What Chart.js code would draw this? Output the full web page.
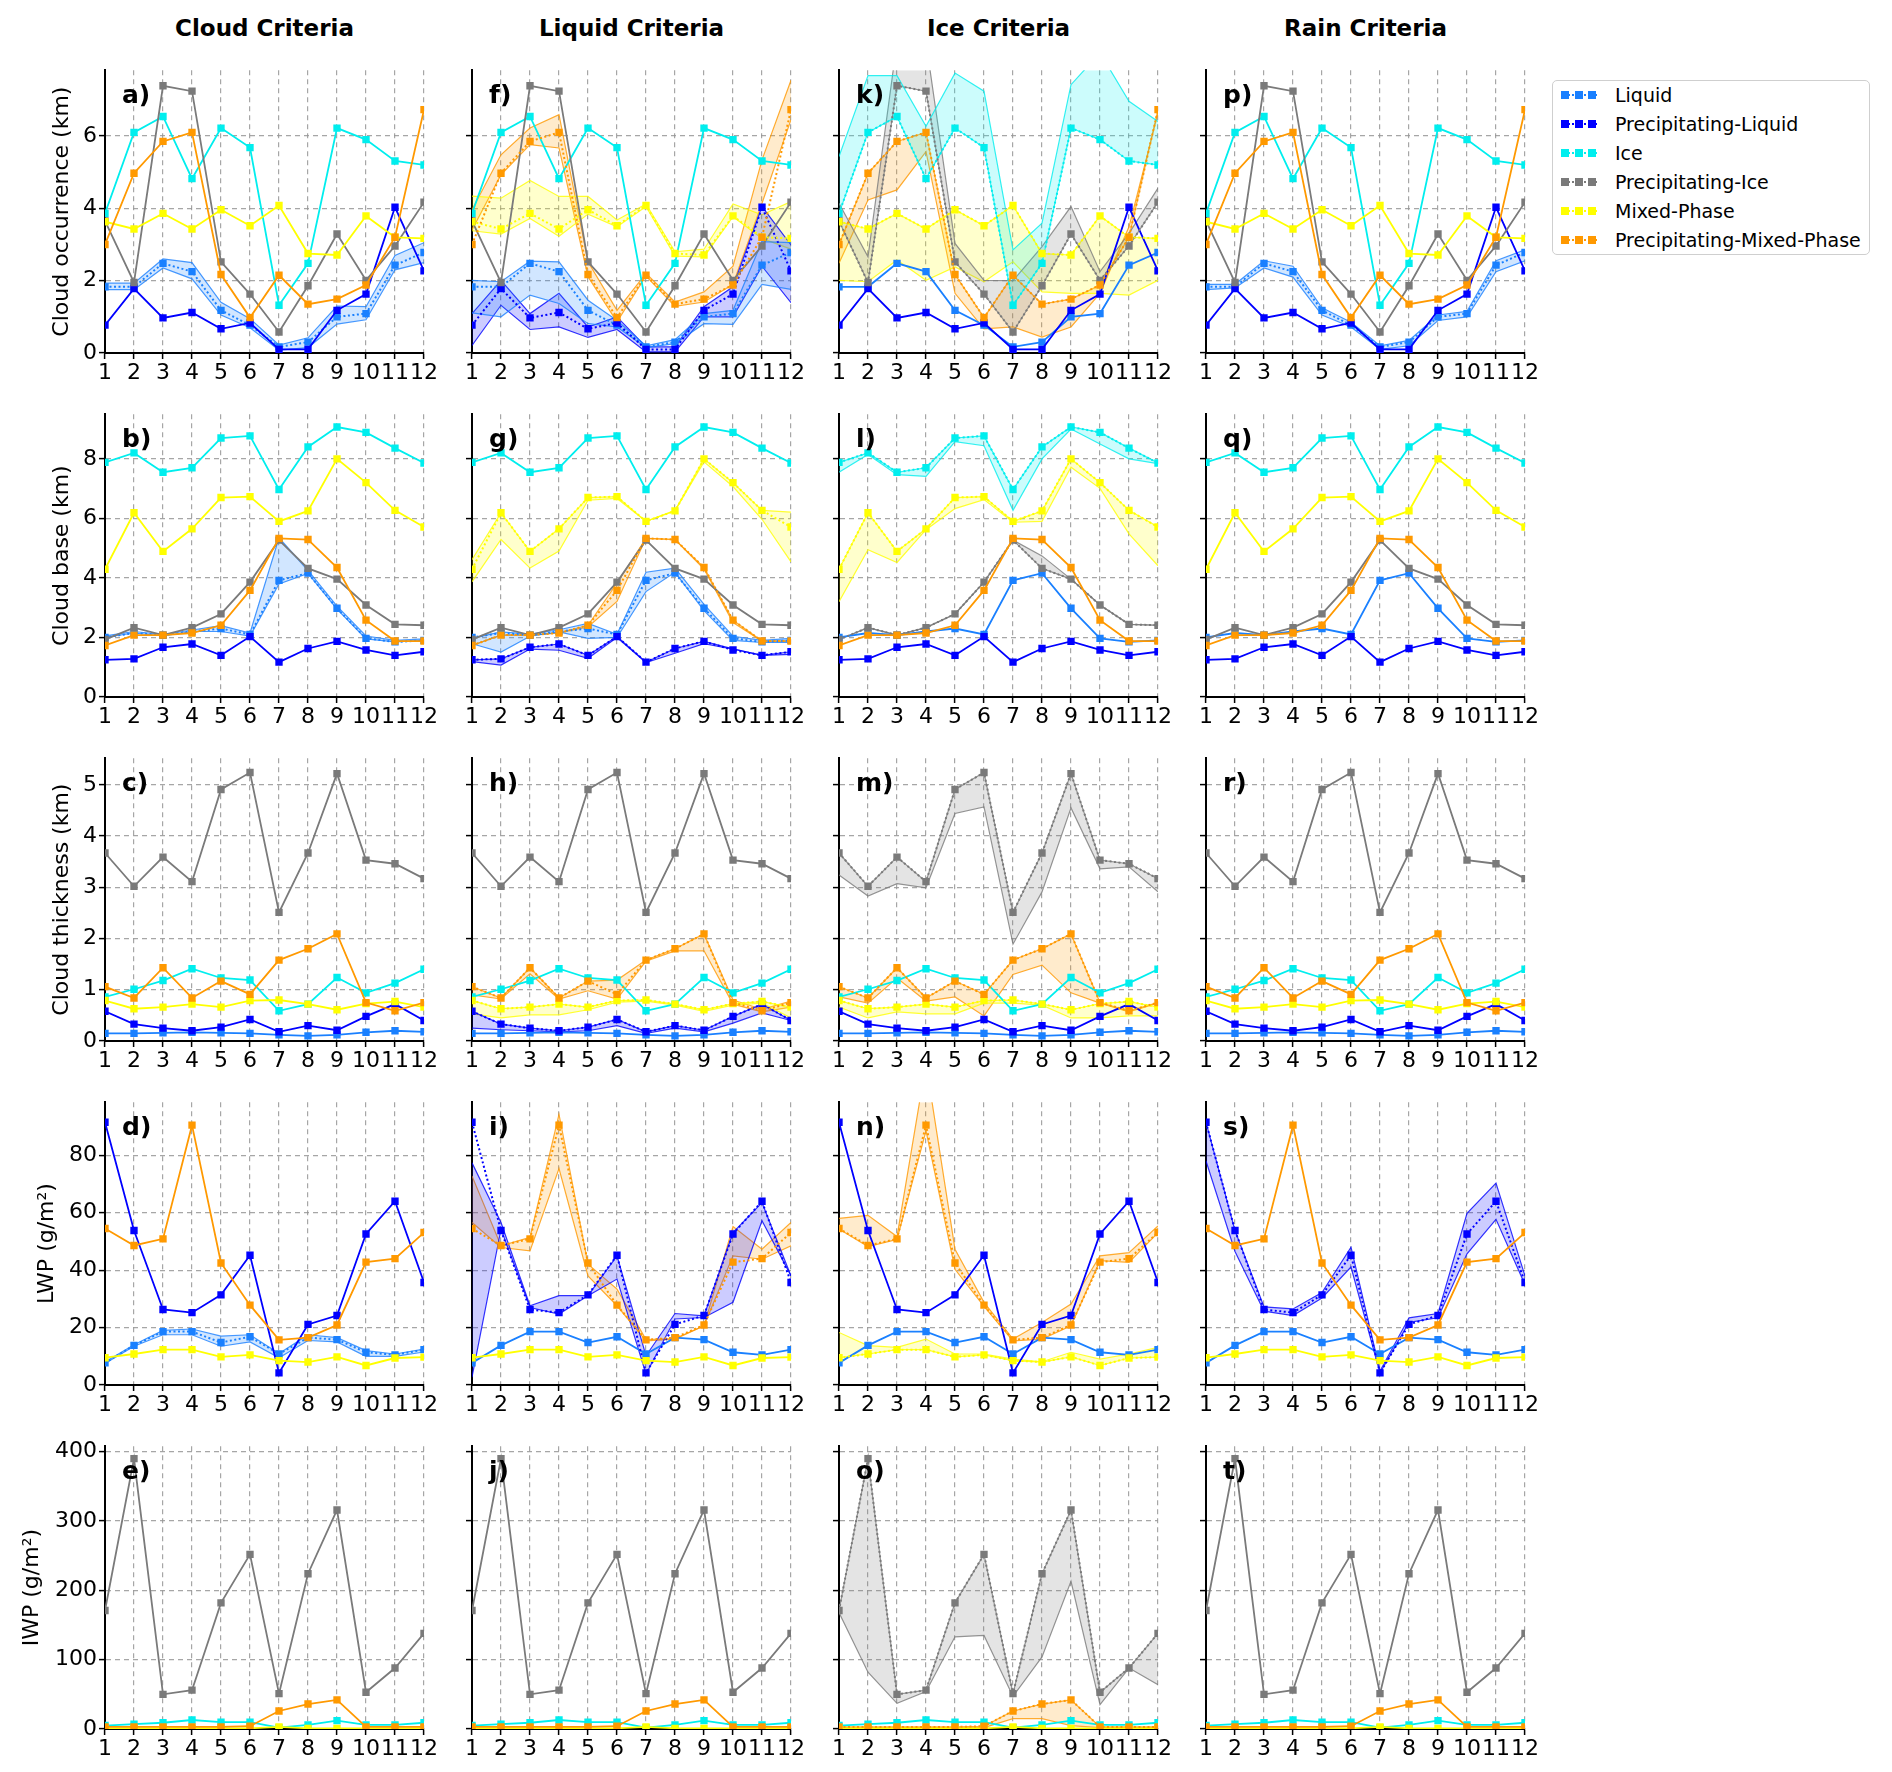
<!DOCTYPE html>
<html>
<head>
<meta charset="utf-8">
<script src="https://cdn.jsdelivr.net/npm/chart.js@4.4.1/dist/chart.umd.min.js"></script>
<style>
    body { margin: 0; background: #fff; width: 1892px; height: 1772px; position: relative; overflow: hidden;
           font-family: 'DejaVu Sans', sans-serif; }
    canvas { position: absolute; }
    .coltitle { position: absolute; top: 17px; font-weight: bold; font-size: 23px; line-height: 23px;
                transform: translateX(-50%); white-space: nowrap; color: #000; }
    #legend { position: absolute; left: 1552px; top: 80px; width: 318px; height: 175px;
              border: 1.5px solid #cfcfcf; border-radius: 5px; box-sizing: border-box; }
    .item { position: absolute; left: 0; height: 20px; width: 316px; }
    .item span.txt { position: absolute; left: 62px; top: -2px; font-size: 19px; line-height: 22px; white-space: nowrap; color: #000; }
    .mk { position: absolute; top: 5px; width: 8px; height: 8px; }
    .dots { position: absolute; left: 12px; top: 8px; width: 32px; border-top: 2px dotted; }
</style>
</head>
<body>
<div id="legend"></div>
<script>
// ---- categories / labels ----
const months = [1, 2, 3, 4, 5, 6, 7, 8, 9, 10, 11, 12];
const colTitles = ['Cloud Criteria', 'Liquid Criteria', 'Ice Criteria', 'Rain Criteria'];
const rowTitles = ['Cloud occurrence (km)', 'Cloud base (km)', 'Cloud thickness (km)', 'LWP (g/m²)', 'IWP (g/m²)'];
const seriesNames = ['Liquid', 'Precipitating-Liquid', 'Ice', 'Precipitating-Ice', 'Mixed-Phase', 'Precipitating-Mixed-Phase'];
const seriesColors = ['#1a80ff', '#0000ff', '#00eeee', '#7a7a7a', '#ffff00', '#ff9900'];
const yMax = [7.82, 9.5, 5.52, 98.5, 408];
const yTicks = [
    [0, 2, 4, 6],
    [0, 2, 4, 6, 8],
    [0, 1, 2, 3, 4, 5],
    [0, 20, 40, 60, 80],
    [0, 100, 200, 300, 400]
];

// ---- cloud occurrence (km) ----
const occLiquid = [1.83, 1.83, 2.48, 2.25, 1.18, 0.77, 0.17, 0.30, 1.00, 1.09, 2.43, 2.78];
const occPrecLiquid = [0.77, 1.78, 0.97, 1.12, 0.67, 0.83, 0.10, 0.10, 1.18, 1.63, 4.03, 2.27];
const occIce = [3.86, 6.10, 6.54, 4.82, 6.22, 5.68, 1.32, 2.48, 6.22, 5.90, 5.31, 5.20];
const occPrecIce = [3.65, 1.95, 7.39, 7.24, 2.52, 1.63, 0.58, 1.86, 3.29, 2.01, 2.96, 4.17];
const occMixed = [3.63, 3.43, 3.86, 3.43, 3.96, 3.52, 4.08, 2.75, 2.71, 3.79, 3.20, 3.17];
const occPrecMixed = [3.00, 4.97, 5.85, 6.10, 2.17, 0.98, 2.15, 1.35, 1.49, 1.88, 3.20, 6.73];

// ---- cloud base (km) ----
const baseLiquid = [2.00, 2.15, 2.08, 2.20, 2.30, 2.10, 3.92, 4.16, 2.98, 1.97, 1.85, 1.90];
const basePrecLiquid = [1.25, 1.28, 1.67, 1.78, 1.40, 2.03, 1.17, 1.63, 1.87, 1.58, 1.40, 1.52];
const baseIce = [7.88, 8.20, 7.55, 7.70, 8.70, 8.77, 6.97, 8.40, 9.07, 8.89, 8.36, 7.86];
const basePrecIce = [1.93, 2.33, 2.08, 2.33, 2.79, 3.86, 5.27, 4.32, 3.96, 3.09, 2.44, 2.41];
const baseMixed = [4.29, 6.19, 4.89, 5.65, 6.70, 6.73, 5.90, 6.25, 8.00, 7.20, 6.27, 5.71];
const basePrecMixed = [1.73, 2.08, 2.08, 2.15, 2.41, 3.58, 5.33, 5.29, 4.35, 2.58, 1.88, 1.88];

// ---- cloud thickness (km) ----
const thickLiquid = [0.15, 0.15, 0.16, 0.17, 0.16, 0.15, 0.12, 0.10, 0.12, 0.17, 0.20, 0.18];
const thickPrecLiquid = [0.58, 0.33, 0.25, 0.20, 0.27, 0.42, 0.18, 0.30, 0.21, 0.48, 0.72, 0.40];
const thickIce = [0.86, 1.01, 1.18, 1.41, 1.23, 1.19, 0.59, 0.72, 1.24, 0.94, 1.13, 1.40];
const thickPrecIce = [3.67, 3.02, 3.59, 3.11, 4.91, 5.24, 2.51, 3.67, 5.22, 3.53, 3.46, 3.17];
const thickMixed = [0.79, 0.63, 0.66, 0.72, 0.66, 0.79, 0.80, 0.72, 0.61, 0.73, 0.77, 0.66];
const thickPrecMixed = [1.06, 0.84, 1.43, 0.84, 1.17, 0.91, 1.58, 1.80, 2.09, 0.75, 0.59, 0.75];

// ---- LWP (g/m2) ----
const lwpLiquid = [7.7, 13.8, 18.6, 18.6, 14.8, 16.8, 10.8, 16.5, 15.8, 11.4, 10.5, 12.3];
const lwpPrecLiquid = [91.5, 53.8, 26.3, 25.2, 31.4, 45.2, 4.2, 21.1, 24.2, 52.6, 64.0, 35.7];
const lwpMixed = [9.5, 10.8, 12.3, 12.3, 9.8, 10.5, 8.5, 8.0, 9.8, 6.8, 9.4, 9.7];
const lwpPrecMixed = [54.5, 48.6, 50.9, 90.5, 42.5, 27.8, 15.7, 16.5, 20.9, 42.8, 44.0, 53.1];

// ---- IWP (g/m2) ----
const iwpIce = [5, 7, 9, 13, 10, 10, 2, 6, 12, 6, 6, 9];
const iwpPrecIce = [171, 390, 50, 56, 182, 252, 51, 224, 316, 53, 88, 138];
const iwpMixed = [1, 1, 1, 1, 1, 1, 3, 1, 1, 1, 1, 1];
const iwpPrecMixed = [3, 3, 3, 3, 3, 4, 26, 36, 42, 3, 3, 3];

// ---- sensitivity ranges (lower / upper) per panel ----
const aLiquidLo = [1.75, 1.75, 2.35, 2.05, 1.05, 0.70, 0.08, 0.15, 0.80, 0.92, 2.30, 2.50];
const aLiquidHi = [1.93, 1.93, 2.60, 2.50, 1.40, 0.95, 0.22, 0.42, 1.30, 1.28, 2.70, 3.05];
const bLiquidLo = [2.00, 2.15, 2.05, 2.20, 2.20, 2.05, 3.80, 4.15, 2.95, 1.95, 1.85, 1.90];
const bLiquidHi = [2.05, 2.20, 2.10, 2.25, 2.40, 2.15, 5.35, 4.25, 3.05, 2.05, 1.90, 1.95];
const dLiquidLo = [7.5, 13.5, 17.5, 17.5, 13.5, 15.0, 9.5, 15.5, 15.0, 10.0, 10.0, 11.5];
const dLiquidHi = [8.0, 14.0, 19.0, 19.5, 17.0, 17.5, 11.0, 17.5, 16.5, 12.0, 10.8, 12.5];

const fLiquidLo = [1.11, 1.00, 1.60, 1.37, 0.81, 0.72, 0.15, 0.26, 0.81, 0.79, 1.90, 1.76];
const fLiquidHi = [2.01, 1.97, 2.54, 2.52, 1.46, 0.90, 0.20, 0.37, 1.09, 1.18, 3.08, 3.05];
const fPrecLiquidLo = [0.21, 1.32, 0.65, 0.72, 0.43, 0.65, 0.03, 0.03, 1.00, 1.00, 2.40, 1.39];
const fPrecLiquidHi = [1.09, 2.01, 1.09, 1.65, 0.72, 1.00, 0.17, 0.17, 1.28, 1.83, 4.05, 2.99];
const fMixedLo = [3.38, 3.29, 3.72, 3.23, 3.84, 3.49, 4.05, 2.68, 2.66, 3.77, 3.17, 2.87];
const fMixedHi = [4.34, 4.28, 4.77, 4.33, 4.33, 3.68, 4.12, 2.80, 2.87, 4.12, 3.82, 4.19];
const fPrecMixedLo = [3.40, 4.93, 5.76, 5.67, 2.11, 0.86, 2.13, 1.29, 1.41, 1.90, 4.14, 6.45];
const fPrecMixedHi = [3.96, 5.48, 6.22, 6.59, 2.52, 1.18, 2.20, 1.41, 1.69, 2.40, 5.34, 7.54];
const gLiquidLo = [1.79, 1.51, 2.04, 2.19, 1.97, 2.00, 3.54, 4.19, 2.90, 1.90, 1.83, 1.83];
const gLiquidHi = [1.97, 2.19, 2.11, 2.26, 2.47, 2.11, 4.19, 4.33, 3.11, 2.04, 1.90, 1.97];
const gPrecLiquidLo = [1.19, 1.07, 1.61, 1.57, 1.30, 2.00, 1.16, 1.47, 1.79, 1.61, 1.40, 1.43];
const gPrecLiquidHi = [1.25, 1.28, 1.67, 1.78, 1.40, 2.03, 1.17, 1.63, 1.87, 1.62, 1.40, 1.52];
const gMixedLo = [3.87, 5.29, 4.33, 4.90, 6.61, 6.67, 5.90, 6.26, 7.90, 7.07, 5.97, 4.54];
const gMixedHi = [4.61, 6.19, 4.89, 5.65, 6.70, 6.73, 5.90, 6.26, 8.00, 7.20, 6.27, 6.21];
const gPrecMixedLo = [1.73, 2.08, 2.08, 2.15, 2.35, 3.21, 5.33, 5.29, 4.30, 2.50, 1.88, 1.88];
const gPrecMixedHi = [1.73, 2.08, 2.08, 2.15, 2.41, 3.83, 5.33, 5.29, 4.35, 2.58, 1.88, 1.88];
const hPrecLiquidLo = [0.25, 0.22, 0.20, 0.18, 0.20, 0.30, 0.15, 0.25, 0.18, 0.35, 0.55, 0.40];
const hMixedLo = [0.53, 0.45, 0.51, 0.51, 0.61, 0.76, 0.78, 0.70, 0.58, 0.70, 0.74, 0.45];
const hPrecMixedLo = [0.90, 0.82, 1.31, 0.82, 0.98, 0.82, 1.56, 1.76, 1.76, 0.72, 0.57, 0.66];
const hPrecMixedHi = [1.06, 0.84, 1.43, 0.84, 1.17, 1.19, 1.58, 1.80, 2.09, 0.80, 0.62, 0.78];
const iPrecLiquidLo = [2.7, 54.3, 27.0, 24.7, 31.1, 36.9, 3.8, 23.0, 23.5, 28.8, 57.2, 38.0];
const iPrecLiquidHi = [77.4, 56.6, 27.6, 31.1, 31.1, 45.0, 10.2, 24.9, 24.1, 53.1, 63.5, 38.0];
const iPrecMixedLo = [56.6, 47.9, 46.7, 75.4, 38.0, 27.6, 15.4, 16.0, 20.6, 45.0, 43.8, 48.5];
const iPrecMixedHi = [72.8, 48.5, 51.4, 94.3, 42.1, 33.4, 15.8, 16.2, 20.6, 55.2, 47.3, 56.6];

const kIceHi = [5.43, 7.67, 7.67, 6.27, 7.74, 7.24, 2.85, 3.59, 7.42, 8.30, 6.96, 6.40];
const kPrecIceHi = [4.14, 2.66, 8.60, 8.60, 3.03, 2.01, 2.00, 2.94, 4.05, 2.25, 3.31, 4.56];
const kMixedLo = [2.01, 1.97, 2.57, 2.01, 2.38, 1.97, 2.52, 1.69, 1.65, 1.65, 1.60, 2.01];
const kPrecMixedLo = [2.48, 4.23, 4.51, 5.57, 1.65, 0.67, 0.72, 0.44, 0.72, 1.65, 3.49, 6.64];
const lIceLo = [7.55, 8.15, 7.47, 7.41, 8.58, 8.44, 6.27, 8.00, 9.00, 8.50, 8.00, 7.84];
const lMixedLo = [3.20, 4.95, 4.52, 5.62, 6.33, 6.63, 5.87, 5.90, 7.72, 7.01, 5.48, 4.41];
const lPrecIceHi = [1.93, 2.33, 2.08, 2.33, 2.79, 3.86, 5.27, 4.74, 3.96, 3.09, 2.44, 2.41];
const mPrecIceLo = [3.24, 2.83, 3.07, 2.99, 4.44, 4.57, 1.89, 2.91, 4.55, 3.36, 3.40, 2.91];
const mPrecMixedLo = [0.86, 0.74, 1.23, 0.78, 0.86, 0.49, 1.30, 1.48, 0.94, 0.74, 0.57, 0.74];
const mMixedLo = [0.66, 0.45, 0.57, 0.53, 0.53, 0.74, 0.74, 0.70, 0.45, 0.45, 0.49, 0.49];
const nPrecMixedLo = [54.3, 48.2, 50.7, 88.5, 40.3, 27.4, 15.4, 16.0, 20.6, 43.3, 42.7, 53.1];
const nPrecMixedHi = [58.0, 59.1, 51.7, 112.0, 47.3, 28.8, 16.0, 21.8, 28.2, 45.0, 46.1, 55.4];
const nMixedHi = [18.3, 13.7, 13.1, 16.0, 10.8, 10.8, 9.0, 8.1, 11.4, 9.0, 10.8, 13.1];
const oPrecIceLo = [168, 82, 37, 54, 133, 135, 47, 104, 213, 35, 88, 64];
const oPrecMixedLo = [2, 2, 2, 2, 2, 2, 15, 15, 5, 2, 2, 2];

const pLiquidLo = [1.75, 1.80, 2.35, 2.10, 1.05, 0.72, 0.10, 0.20, 0.90, 1.00, 2.25, 2.55];
const pLiquidHi = [1.90, 1.90, 2.55, 2.40, 1.25, 0.85, 0.20, 0.35, 1.05, 1.15, 2.55, 2.85];
const sPrecLiquidLo = [78.0, 46.5, 25.7, 24.2, 30.3, 41.1, 4.2, 21.8, 23.4, 45.7, 57.7, 34.9];
const sPrecLiquidHi = [91.5, 53.8, 27.2, 26.5, 32.2, 48.0, 4.9, 23.4, 24.9, 59.8, 70.3, 38.0];

// series per row (null = not shown)
const rowSeries = [
    [occLiquid, occPrecLiquid, occIce, occPrecIce, occMixed, occPrecMixed],
    [baseLiquid, basePrecLiquid, baseIce, basePrecIce, baseMixed, basePrecMixed],
    [thickLiquid, thickPrecLiquid, thickIce, thickPrecIce, thickMixed, thickPrecMixed],
    [lwpLiquid, lwpPrecLiquid, null, null, lwpMixed, lwpPrecMixed],
    [null, null, iwpIce, iwpPrecIce, iwpMixed, iwpPrecMixed]
];

// [series index, lower, upper]
const panelBands = {
    a: [[0, aLiquidLo, aLiquidHi]],
    b: [[0, bLiquidLo, bLiquidHi]],
    d: [[0, dLiquidLo, dLiquidHi]],
    f: [[0, fLiquidLo, fLiquidHi], [1, fPrecLiquidLo, fPrecLiquidHi], [4, fMixedLo, fMixedHi], [5, fPrecMixedLo, fPrecMixedHi]],
    g: [[0, gLiquidLo, gLiquidHi], [1, gPrecLiquidLo, gPrecLiquidHi], [4, gMixedLo, gMixedHi], [5, gPrecMixedLo, gPrecMixedHi]],
    h: [[1, hPrecLiquidLo, thickPrecLiquid], [4, hMixedLo, thickMixed], [5, hPrecMixedLo, hPrecMixedHi]],
    i: [[1, iPrecLiquidLo, iPrecLiquidHi], [5, iPrecMixedLo, iPrecMixedHi]],
    k: [[2, occIce, kIceHi], [3, occPrecIce, kPrecIceHi], [4, kMixedLo, occMixed], [5, kPrecMixedLo, occPrecMixed]],
    l: [[2, lIceLo, baseIce], [3, basePrecIce, lPrecIceHi], [4, lMixedLo, baseMixed]],
    m: [[3, mPrecIceLo, thickPrecIce], [4, mMixedLo, thickMixed], [5, mPrecMixedLo, thickPrecMixed]],
    n: [[4, lwpMixed, nMixedHi], [5, nPrecMixedLo, nPrecMixedHi]],
    o: [[3, oPrecIceLo, iwpPrecIce], [5, oPrecMixedLo, iwpPrecMixed]],
    p: [[0, pLiquidLo, pLiquidHi]],
    s: [[1, sPrecLiquidLo, sPrecLiquidHi]]
};

// ---- layout ----
const colLeft = [105, 472, 839, 1206];
const rowTop = [70, 414, 758, 1102, 1446];
const plotW = 319, plotH = 283;
const padL = 105, padR = 25, padT = 15, padB = 45;
const titlePad = [49, 49, 49, 34, 19];
const letters = 'abcdefghijklmnopqrst';
const fontFamily = "'DejaVu Sans', sans-serif";

function rgba(hex, a) {
    const n = parseInt(hex.slice(1), 16);
    return `rgba(${n >> 16},${(n >> 8) & 255},${n & 255},${a})`;
}
function pts(arr) {
    return arr.map((v, i) => ({x: months[i], y: v}));
}

const panelLabel = {
    id: 'panelLabel',
    afterDraw(chart, args, opts) {
        const {ctx, chartArea} = chart;
        ctx.save();
        ctx.font = `bold 25px ${fontFamily}`;
        ctx.fillStyle = '#000';
        ctx.textBaseline = 'alphabetic';
        ctx.fillText(opts.text, chartArea.left + 17, chartArea.top + 33);
        ctx.restore();
    }
};

function axisCommon() {
    return {
        grid: {color: 'rgba(150,150,150,0.85)', lineWidth: 1.2, tickColor: '#000', tickLength: 6,
               tickWidth: 1.5, tickBorderDash: []},
        border: {display: true, color: '#000', width: 2, dash: [5, 4]}
    };
}

function makePanel(r, c) {
    const letter = letters[c * 5 + r];
    const bands = panelBands[letter] || [];
    const datasets = [];

    bands.forEach(([s, lo, hi]) => {
        const col = seriesColors[s];
        datasets.push({data: pts(lo), borderColor: rgba(col, 0.8), borderWidth: 1.2, pointRadius: 0,
                       fill: false, order: 30, clip: 0});
        datasets.push({data: pts(hi), borderColor: rgba(col, 0.8), borderWidth: 1.2, pointRadius: 0,
                       fill: '-1', backgroundColor: rgba(col, 0.2), order: 30, clip: 0});
    });

    rowSeries[r].forEach((arr, s) => {
        if (!arr) return;
        const col = seriesColors[s];
        const banded = bands.some(b => b[0] === s);
        datasets.push({
            data: pts(arr), borderColor: col, backgroundColor: col, borderWidth: banded ? 2 : 1.8,
            borderDash: banded ? [2, 2.5] : [], pointStyle: 'rect', pointRadius: 5.2, pointBorderWidth: 0,
            pointBackgroundColor: col, fill: false, order: 10 - s, clip: 0
        });
    });

    const canvas = document.createElement('canvas');
    const w = padL + plotW + padR, h = padT + plotH + padB;
    canvas.width = w;
    canvas.height = h;
    canvas.style.width = w + 'px';
    canvas.style.height = h + 'px';
    canvas.style.left = (colLeft[c] - padL) + 'px';
    canvas.style.top = (rowTop[r] - padT) + 'px';
    document.body.appendChild(canvas);

    const tickFont = {family: fontFamily, size: 22};
    const xAxis = axisCommon(), yAxis = axisCommon();

    new Chart(canvas, {
        type: 'line',
        data: {datasets},
        plugins: [panelLabel],
        options: {
            responsive: false,
            animation: false,
            events: [],
            layout: {padding: {left: 0, right: padR, top: padT, bottom: 0}},
            elements: {line: {tension: 0}},
            plugins: {
                legend: {display: false},
                tooltip: {enabled: false},
                panelLabel: {text: letter + ')'}
            },
            scales: {
                x: Object.assign(xAxis, {
                    type: 'linear', min: 1, max: 12,
                    ticks: {stepSize: 1, autoSkip: false, maxRotation: 0, includeBounds: false,
                            font: tickFont, color: '#000', padding: 1},
                    afterBuildTicks: s => { s.ticks = months.map(v => ({value: v})); },
                    afterFit: s => { s.height = padB; }
                }),
                y: Object.assign(yAxis, {
                    type: 'linear', min: 0, max: yMax[r],
                    ticks: {includeBounds: false, font: tickFont, color: '#000', padding: 2,
                            callback: c === 0 ? (v => v) : (() => '')},
                    afterBuildTicks: s => { s.ticks = yTicks[r].map(v => ({value: v})); },
                    title: {display: c === 0, text: rowTitles[r], color: '#000',
                            font: {family: fontFamily, size: 22}, padding: {top: titlePad[r], bottom: 0}},
                    afterFit: s => { s.width = padL; }
                })
            }
        }
    });
}

colTitles.forEach((t, c) => {
    const d = document.createElement('div');
    d.className = 'coltitle';
    d.textContent = t;
    d.style.left = (colLeft[c] + plotW / 2) + 'px';
    document.body.appendChild(d);
});

for (let c = 0; c < 4; c++) {
    for (let r = 0; r < 5; r++) makePanel(r, c);
}

// legend
const legend = document.getElementById('legend');
seriesNames.forEach((name, i) => {
    const it = document.createElement('div');
    it.className = 'item';
    it.style.top = (5 + i * 29) + 'px';
    const col = seriesColors[i];
    let html = `<div class="dots" style="border-color:${col}"></div>`;
    [8, 21.5, 35].forEach(x => { html += `<div class="mk" style="left:${x}px;background:${col}"></div>`; });
    html += `<span class="txt">${name}</span>`;
    it.innerHTML = html;
    legend.appendChild(it);
});
</script>
</body>
</html>
